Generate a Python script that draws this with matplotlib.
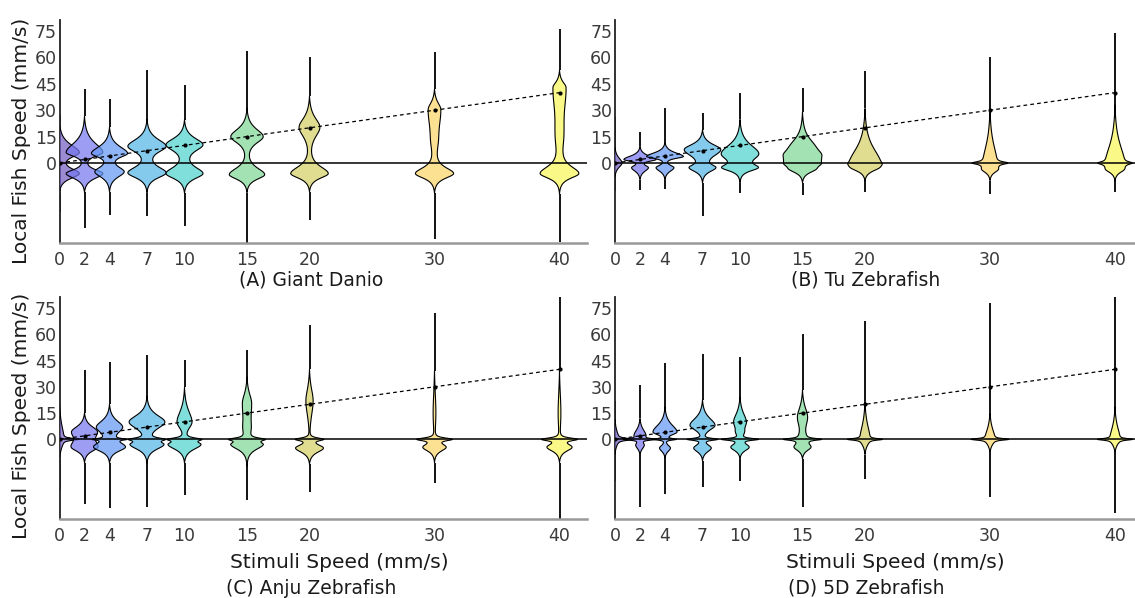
import numpy as np
import matplotlib
matplotlib.use("Agg")
import matplotlib.pyplot as plt
from matplotlib.colors import to_rgba

plt.rcParams['font.family'] = ['DejaVu Sans']

stimuli = [0, 2, 4, 7, 10, 15, 20, 30, 40]
yticks = [0, 15, 30, 45, 60, 75]
colors = ['#735fc2', '#7777ef', '#6699f5', '#55b6e7', '#4fd3cd',
          '#80d894', '#d6d066', '#fcd66a', '#f9f658']

# whisker range (min, max) of local fish speed per stimulus
giant_lo = [-28, -37, -29.5, -30.4, -35.7, -46, -32.7, -43, -44.7]
giant_hi = [27, 42, 36.6, 53, 44.6, 63.5, 60.4, 63.3, 76.3]
tu_lo = [-16, -15.2, -15, -30.4, -17, -18, -16.7, -17.5, -16.7]
tu_hi = [26, 17.4, 31.3, 28.5, 40, 42.6, 52.2, 60.4, 74]
anju_lo = [-29, -37.2, -39.5, -38.6, -31.9, -34.8, -30, -24.9, -46]
anju_hi = [20, 39.7, 44, 47.9, 45.4, 51, 65.5, 72, 82]
fived_lo = [-24, -38.6, -31.3, -27, -23.7, -38.9, -22.4, -33, -42]
fived_hi = [22, 31, 43.5, 48.8, 46.9, 60.2, 67.8, 78, 82]

# density outline of each violin as modes: (speed, half width, spread below, spread above)
giant_modes = [
    [(6, 1.6, 2.5, 4.0), (-6, 1.6, 2.5, 2.5)],
    [(6, 1.5, 2.0, 4.8), (-6, 1.5, 2.5, 2.0)],
    [(5.5, 1.45, 2.0, 3.5), (-5, 1.2, 2.8, 2.5)],
    [(9.5, 1.55, 3.0, 3.6), (-5.6, 1.55, 2.6, 3.0)],
    [(10.4, 1.5, 3.2, 3.3), (-6, 1.5, 2.6, 3.2)],
    [(15, 1.33, 3.4, 3.9), (-6.6, 1.45, 2.4, 3.4)],
    [(20.3, 0.87, 5.0, 4.7), (-6, 1.53, 2.4, 3.6)],
    [(30.4, 0.53, 10, 3.5), (12, 0.18, 6, 6), (-6, 1.52, 2.4, 3.0)],
    [(42.9, 0.53, 12, 2.7), (15, 0.28, 8, 10), (-6, 1.53, 2.4, 3.6)],
]
tu_modes = [
    [(0, 0.6, 2.3, 2.6)],
    [(2, 1.3, 0.9, 1.8), (-2.7, 0.7, 1.9, 1.2)],
    [(3.7, 1.5, 1.0, 1.9), (-2.7, 0.75, 1.9, 1.3)],
    [(7.6, 1.5, 3.5, 2.65), (-2.7, 0.96, 2.0, 1.5)],
    [(5.3, 1.53, 3.5, 4.5), (-2.7, 1.2, 1.65, 1.6)],
    [(0, 1.35, 2.2, 6.5), (10, 0.45, 4, 4), (5, 0.3, 2, 2), (-3.8, 0.6, 1.8, 1.5)],
    [(0, 1.25, 2.2, 7.5), (-3, 0.55, 1.8, 1.5)],
    [(0, 0.8, 0.6, 0.6), (0, 0.6, 2.5, 9), (-3.8, 0.45, 1.6, 1.5)],
    [(0, 0.55, 0.6, 0.6), (0, 0.8, 2.5, 9), (-3.8, 0.45, 1.6, 1.5)],
]
anju_modes = [
    [(0, 0.4, 4, 7), (0, 1.2, 0.5, 0.5)],
    [(4.5, 0.95, 3.2, 2.7), (-4.4, 1.0, 2.2, 3.2)],
    [(7, 1.07, 3.0, 3.3), (0, 0.8, 0.4, 0.4), (-4.4, 1.27, 2.2, 2.5)],
    [(9.9, 1.47, 3.5, 3.5), (0, 1.0, 0.7, 0.7), (-3, 1.3, 2.5, 1.5)],
    [(9.9, 0.64, 3.5, 5.7), (0, 1.0, 0.7, 0.7), (-3, 1.3, 2.5, 1.5)],
    [(20.7, 0.4, 10, 5), (6, 0.2, 4, 4), (0, 1.0, 0.7, 0.7), (-3, 1.2, 2.5, 1.5)],
    [(22, 0.33, 8, 6.4), (0, 1.0, 0.7, 0.7), (-5, 1.13, 2.2, 1.8)],
    [(15, 0.15, 10, 12), (0, 1.25, 0.7, 0.7), (-4.5, 0.93, 2.0, 1.8)],
    [(15, 0.15, 10, 12), (0, 1.25, 0.7, 0.7), (-4.5, 1.0, 2.0, 1.8)],
]
fived_modes = [
    [(0, 0.35, 3, 4), (0, 1.2, 0.5, 0.5)],
    [(2.3, 0.5, 1.5, 3.0), (0, 1.1, 0.4, 0.4), (-3.4, 0.36, 1.9, 1.5)],
    [(4.2, 1.0, 1.5, 3.7), (0, 0.8, 0.4, 0.4), (-5, 0.47, 1.8, 1.5)],
    [(8, 1.04, 2.5, 3.7), (0, 1.1, 0.5, 0.5), (-5, 0.73, 2.0, 1.8)],
    [(10, 0.53, 3.0, 4.5), (4, 0.25, 2, 2), (0, 1.3, 0.5, 0.5), (-4.5, 0.76, 1.8, 1.8)],
    [(12.7, 0.44, 5, 5), (0, 0.3, 2, 3), (0, 1.1, 0.45, 0.45), (-4.5, 0.63, 1.8, 1.8)],
    [(0, 0.45, 2.8, 7), (0, 1.0, 0.4, 0.4)],
    [(0, 0.45, 2.5, 5), (0, 1.1, 0.4, 0.4)],
    [(0, 0.45, 2.5, 6), (0, 1.0, 0.4, 0.4)],
]

panels = [
    ("(A) Giant Danio", giant_lo, giant_hi, giant_modes),
    ("(B) Tu Zebrafish", tu_lo, tu_hi, tu_modes),
    ("(C) Anju Zebrafish", anju_lo, anju_hi, anju_modes),
    ("(D) 5D Zebrafish", fived_lo, fived_hi, fived_modes),
]

W, H = 1135, 598
fig = plt.figure(figsize=(W / 100, H / 100), dpi=100)

# axes boxes in pixels: left, top, right, bottom
boxes = [(59.5, 20, 587, 243), (615, 20, 1135, 243),
         (59.5, 297, 587, 519), (615, 297, 1135, 519)]
PX_PER_UNIT = 12.5
FLOOR = 0.04


def violin(ax, x, modes, lo, hi, color):
    v = np.linspace(lo, hi, 2000)
    w = np.zeros_like(v)
    for m, a, s_dn, s_up in modes:
        s = np.where(v < m, s_dn, s_up)
        w += a / np.cosh((v - m) / s)
    w = np.clip(w - FLOOR, 0, None)
    inside = np.nonzero(w > 0)[0]
    i0, i1 = inside[0], inside[-1]
    vb, wb = v[i0:i1 + 1], w[i0:i1 + 1]
    # whisker only outside the body
    ax.plot([x, x], [lo, vb[0]], color='black', lw=1.3, solid_capstyle='butt', zorder=2)
    ax.plot([x, x], [vb[-1], hi], color='black', lw=1.3, solid_capstyle='butt', zorder=2)
    ax.fill(np.r_[x - wb, (x + wb)[::-1]], np.r_[vb, vb[::-1]],
            facecolor=to_rgba(color, 0.72), edgecolor='black', lw=0.8, zorder=3)


for i, (name, lo, hi, modes) in enumerate(panels):
    l, t, r, b = boxes[i]
    ax = fig.add_axes([l / W, 1 - b / H, (r - l) / W, (b - t) / H])
    for x, lo_i, hi_i, m, c in zip(stimuli, lo, hi, modes, colors):
        violin(ax, x, m, lo_i, hi_i, c)
    ax.axhline(0, color='black', lw=1.1, zorder=5)
    ax.plot(stimuli, stimuli, color='black', ls=(0, (3, 2.5)), lw=0.9,
            marker='o', ms=2, zorder=6)

    ax.set_xlim(0, (r - l) / PX_PER_UNIT)
    ax.set_ylim(-45.5, 81.3)
    ax.set_xticks(stimuli)
    ax.set_yticks(yticks)
    ax.tick_params(length=0, labelsize=12.5, labelcolor='#3a3a3a')
    ax.tick_params(axis='x', pad=6)
    ax.tick_params(axis='y', pad=2)
    for side in ['top', 'right']:
        ax.spines[side].set_visible(False)
    ax.spines['left'].set_color('#222222')
    ax.spines['left'].set_linewidth(1.3)
    ax.spines['bottom'].set_color('#999999')
    ax.spines['bottom'].set_linewidth(1.8)

    cx = 311 if i % 2 == 0 else 866
    cy = 280 if i < 2 else 588
    fig.text(cx / W, 1 - cy / H, name, ha='center', va='center',
             fontsize=13.5, color='#1a1a1a')

for cy in [141, 416]:
    fig.text(22 / W, 1 - cy / H, 'Local Fish Speed (mm/s)', rotation=90,
             ha='center', va='center', fontsize=14.5, color='#1a1a1a')
for cx in [339, 895]:
    fig.text(cx / W, 1 - 563 / H, 'Stimuli Speed (mm/s)', ha='center',
             va='center', fontsize=14.5, color='#1a1a1a')

fig.savefig('out.png', dpi=100)
